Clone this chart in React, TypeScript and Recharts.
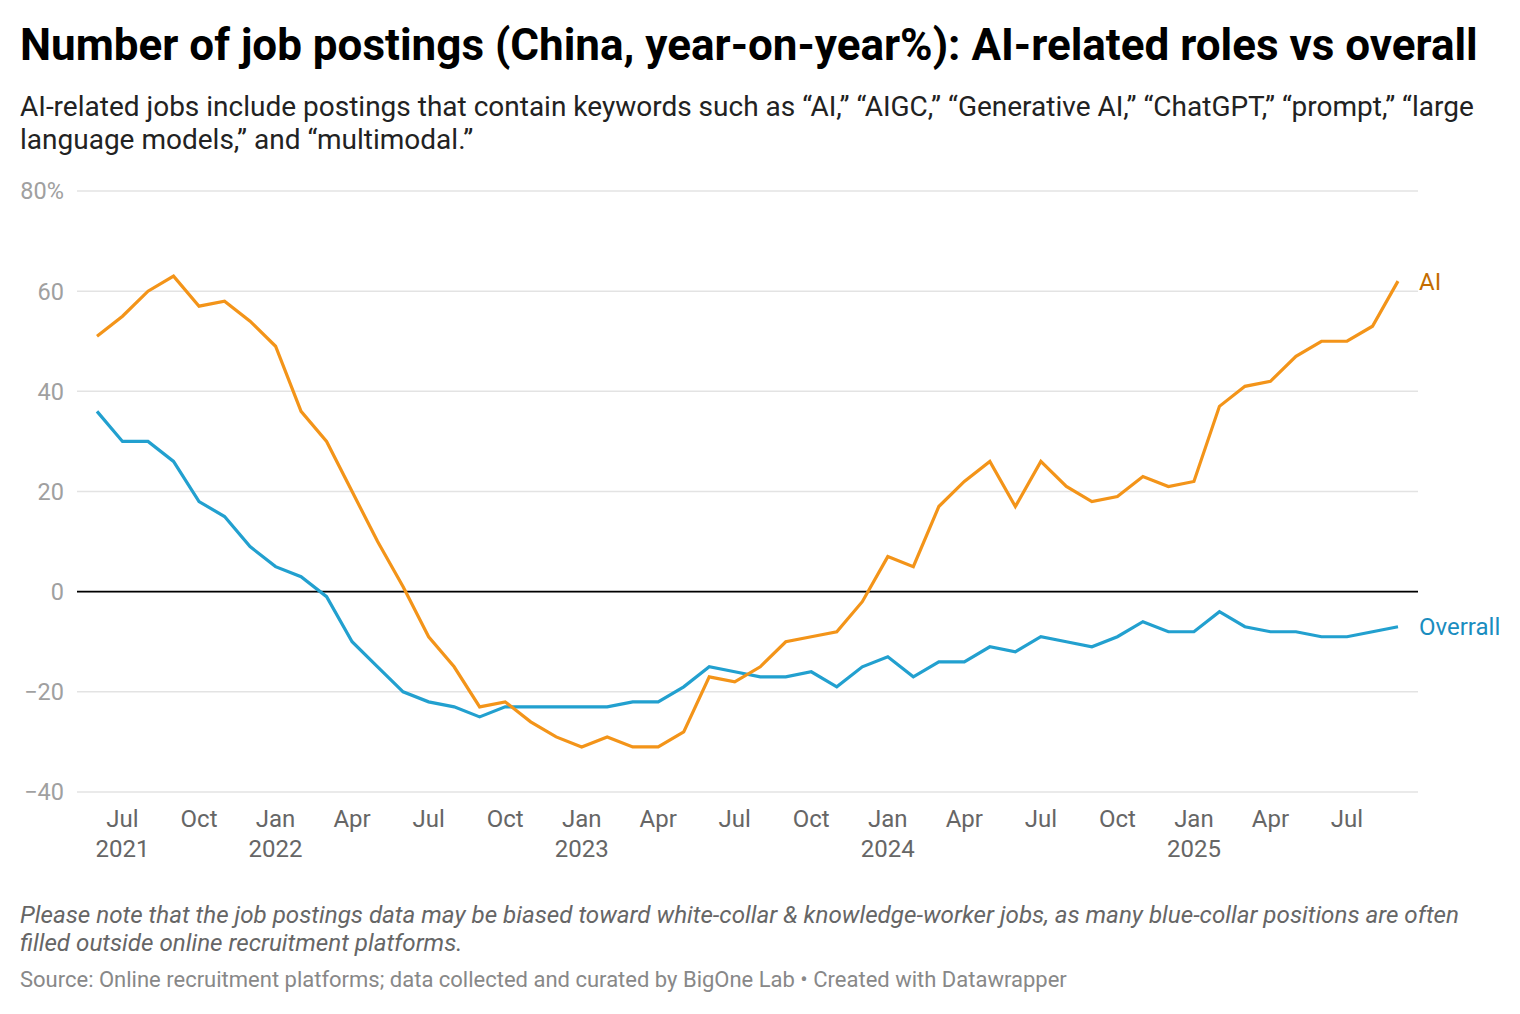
import React from "react";
import { LineChart, Line, XAxis, YAxis, CartesianGrid, ReferenceLine } from "recharts";

const months = [
  "2021-06", "2021-07", "2021-08", "2021-09", "2021-10", "2021-11", "2021-12",
  "2022-01", "2022-02", "2022-03", "2022-04", "2022-05", "2022-06", "2022-07", "2022-08", "2022-09", "2022-10", "2022-11", "2022-12",
  "2023-01", "2023-02", "2023-03", "2023-04", "2023-05", "2023-06", "2023-07", "2023-08", "2023-09", "2023-10", "2023-11", "2023-12",
  "2024-01", "2024-02", "2024-03", "2024-04", "2024-05", "2024-06", "2024-07", "2024-08", "2024-09", "2024-10", "2024-11", "2024-12",
  "2025-01", "2025-02", "2025-03", "2025-04", "2025-05", "2025-06", "2025-07", "2025-08", "2025-09",
];

const aiValues = [
  51, 55, 60, 63, 57, 58, 54,
  49, 36, 30, 20, 10, 1, -9, -15, -23, -22, -26, -29,
  -31, -29, -31, -31, -28, -17, -18, -15, -10, -9, -8, -2,
  7, 5, 17, 22, 26, 17, 26, 21, 18, 19, 23, 21,
  22, 37, 41, 42, 47, 50, 50, 53, 62,
];

const overallValues = [
  36, 30, 30, 26, 18, 15, 9,
  5, 3, -1, -10, -15, -20, -22, -23, -25, -23, -23, -23,
  -23, -23, -22, -22, -19, -15, -16, -17, -17, -16, -19, -15,
  -13, -17, -14, -14, -11, -12, -9, -10, -11, -9, -6, -8,
  -8, -4, -7, -8, -8, -9, -9, -8, -7,
];

const xTicks = [
  "2021-07", "2021-10", "2022-01", "2022-04", "2022-07", "2022-10",
  "2023-01", "2023-04", "2023-07", "2023-10", "2024-01", "2024-04",
  "2024-07", "2024-10", "2025-01", "2025-04", "2025-07",
];

const yTicks = [-40, -20, 0, 20, 40, 60, 80];

const monthNames = ["Jan", "Feb", "Mar", "Apr", "May", "Jun", "Jul", "Aug", "Sep", "Oct", "Nov", "Dec"];

const data = months.map((m, i) => ({ date: m, ai: aiValues[i], overall: overallValues[i] }));

const FONT = "Roboto, 'Noto Sans', Arial, sans-serif";
const AI_COLOR = "#f39419";
const OVERALL_COLOR = "#22a0cf";

const XTick = (props: any) => {
  const { x, y, payload } = props;
  const [yr, mo] = String(payload.value).split("-");
  const mIdx = parseInt(mo, 10) - 1;
  const showYear = mIdx === 0 || payload.value === xTicks[0];
  return (
    <g>
      <text x={x} y={y + 35} textAnchor="middle" fill="#666" fontSize={24} fontFamily={FONT}>
        {monthNames[mIdx]}
      </text>
      {showYear && (
        <text x={x} y={y + 65} textAnchor="middle" fill="#666" fontSize={24} fontFamily={FONT}>
          {yr}
        </text>
      )}
    </g>
  );
};

const YTick = (props: any) => {
  const { x, y, payload } = props;
  const v = payload.value as number;
  let label = v < 0 ? "\u2212" + Math.abs(v) : String(v);
  if (v === 80) label = "80%";
  return (
    <text x={x} y={y} dy="0.36em" textAnchor="end" fill="#a0a0a0" fontSize={23.5} fontFamily={FONT}>
      {label}
    </text>
  );
};

const makeEndLabel = (text: string, color: string) => (props: any) => {
  const { x, y, index } = props;
  if (index !== data.length - 1) return null;
  return (
    <text x={x + 21} y={y} dy="0.36em" fill={color} fontSize={24} fontFamily={FONT}>
      {text}
    </text>
  );
};

export default function App() {
  return (
    <div style={{ position: "absolute", left: 0, top: 0, width: 1520, height: 1014, background: "#fff", fontFamily: FONT }}>
      <div style={{ position: "absolute", left: 20, top: 19, fontSize: 44, lineHeight: "52px", fontWeight: 700, color: "#000", whiteSpace: "nowrap" }}>
        Number of job postings (China, year-on-year%): AI-related roles vs overall
      </div>
      <div style={{ position: "absolute", left: 20, top: 90, fontSize: 28, lineHeight: "33px", color: "#222", whiteSpace: "nowrap" }}>
        AI-related jobs include postings that contain keywords such as “AI,” “AIGC,” “Generative AI,” “ChatGPT,” “prompt,” “large
        <br />
        language models,” and “multimodal.”
      </div>
      <div style={{ position: "absolute", left: 0, top: 0 }}>
        <LineChart width={1520} height={1014} data={data} margin={{ top: 191, right: 102, bottom: 162, left: 0 }}>
          <CartesianGrid vertical={false} stroke="#e3e3e3" strokeWidth={1.5} />
          <XAxis
            dataKey="date"
            ticks={xTicks}
            interval={0}
            padding={{ left: 20, right: 20 }}
            axisLine={false}
            tickLine={false}
            tickSize={0}
            tickMargin={0}
            height={60}
            tick={<XTick />}
          />
          <YAxis
            domain={[-40, 80]}
            ticks={yTicks}
            axisLine={false}
            tickLine={false}
            tickSize={0}
            tickMargin={13}
            width={77}
            tick={<YTick />}
          />
          <ReferenceLine y={0} stroke="#000" strokeWidth={1.6} />
          <Line
            type="linear"
            dataKey="overall"
            stroke={OVERALL_COLOR}
            strokeWidth={3.2}
            dot={false}
            isAnimationActive={false}
            label={makeEndLabel("Overrall", "#1a8dbf")}
          />
          <Line
            type="linear"
            dataKey="ai"
            stroke={AI_COLOR}
            strokeWidth={3.2}
            dot={false}
            isAnimationActive={false}
            label={makeEndLabel("AI", "#c46c00")}
          />
        </LineChart>
      </div>
      <div style={{ position: "absolute", left: 20, top: 901, fontSize: 24.2, lineHeight: "28px", fontStyle: "italic", color: "#666", whiteSpace: "nowrap" }}>
        Please note that the job postings data may be biased toward white-collar &amp; knowledge-worker jobs, as many blue-collar positions are often
        <br />
        filled outside online recruitment platforms.
      </div>
      <div style={{ position: "absolute", left: 20, top: 967, fontSize: 22, lineHeight: "26px", color: "#888", whiteSpace: "nowrap" }}>
        Source: Online recruitment platforms; data collected and curated by BigOne Lab • Created with Datawrapper
      </div>
    </div>
  );
}
